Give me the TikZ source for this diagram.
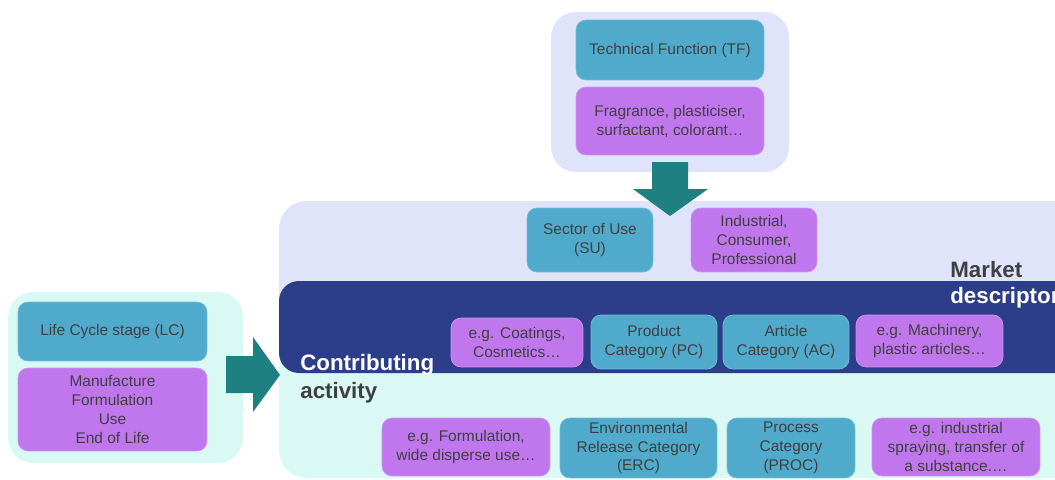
\documentclass[tikz,border=0pt]{standalone}
\usepackage{fontspec}
\setmainfont{Liberation Sans}
\usetikzlibrary{positioning}
\usetikzlibrary{calc}

\definecolor{tealbox}{RGB}{79,170,204}
\definecolor{purplebox}{RGB}{192,119,238}
\definecolor{lavender}{RGB}{224,228,250}
\definecolor{navyband}{RGB}{44,62,138}
\definecolor{cyanlight}{RGB}{218,249,245}
\definecolor{arrowteal}{RGB}{30,128,128}
\definecolor{textgray}{RGB}{64,64,64}

\begin{document}
\begin{tikzpicture}[x=0.02cm,y=-0.02cm,
    box/.style={rounded corners=0.2cm,align=center,inner sep=1pt,text=textgray,
        font=\fontsize{8.8}{10.8}\selectfont},
    tbox/.style={box,fill=tealbox,draw=tealbox!80!white,line width=0.4pt},
    pbox/.style={box,fill=purplebox,draw=purplebox!80!white,line width=0.4pt},
    group/.style={rounded corners=0.5cm,inner sep=0pt},
    title/.style={anchor=base west,inner sep=0pt,font=\fontsize{12.7}{15}\selectfont\bfseries}]
            \useasboundingbox (0,0) rectangle (1055,480);
            % bands
            \fill[lavender,rounded corners=0.55cm] (279,201) rectangle (1120,330);
            \fill[cyanlight,rounded corners=0.55cm] (279,340) rectangle (1120,478);
            \fill[navyband,rounded corners=0.4cm] (279,281) rectangle (1120,373);
            \node[title,text=textgray] (M1) at (950,277) {Market};
            \node[title,text=white] (M2) at (950,303) {descriptor};
            \node[title,text=white] (C1) at (300,370) {Contributing};
            \node[title,text=textgray] (C2) at (300,398) {activity};
            % groups
            \node[group,fill=lavender,minimum width=4.76cm,minimum height=3.2cm] (G1) at (670,92) {};
            \node[group,fill=cyanlight,minimum width=4.7cm,minimum height=3.42cm] (G2) at (125.5,377.5) {};
            % arrows
            \fill[arrowteal] (652,162) -- (688,162) -- (688,189) -- (708,189) -- (670,216)
                -- (633,189) -- (652,189) -- cycle;
            \fill[arrowteal] (226,356) -- (253,356) -- (253,337) -- (280,375) -- (253,412)
                -- (253,393) -- (226,393) -- cycle;
            % top group
            \node[tbox,minimum width=3.76cm,minimum height=1.2cm] (TF) at (670,50) {Technical Function (TF)};
            \node[pbox,minimum width=3.76cm,minimum height=1.36cm] (Fr) at (670,121) {Fragrance, plasticiser,\\surfactant, colorant…};
            % left group
            \node[tbox,minimum width=3.78cm,minimum height=1.18cm] (LC) at (112.5,331.5) {Life Cycle stage (LC)};
            \node[pbox,minimum width=3.78cm,minimum height=1.66cm] (LS) at (112.5,409.5) {Manufacture\\Formulation\\Use\\End of Life};
            % market row
            \node[tbox,minimum width=2.52cm,minimum height=1.28cm] (SU) at (590,240) {Sector of Use\\(SU)};
            \node[pbox,minimum width=2.52cm,minimum height=1.28cm] (IC) at (754,240) {Industrial,\\Consumer,\\Professional};
            \node[pbox,minimum width=2.64cm,minimum height=0.98cm] (Co) at (517,342.5) {e.g. Coatings,\\Cosmetics…};
            \node[tbox,minimum width=2.52cm,minimum height=1.08cm] (PC) at (654,342) {Product\\Category (PC)};
            \node[tbox,minimum width=2.52cm,minimum height=1.08cm] (AC) at (786,342) {Article\\Category (AC)};
            \node[pbox,minimum width=2.94cm,minimum height=1.04cm] (Ma) at (929.5,341) {e.g. Machinery,\\plastic articles…};
            % activity row
            \node[pbox,minimum width=3.36cm,minimum height=1.16cm] (Fo) at (466,447) {e.g. Formulation,\\wide disperse use…};
            \node[tbox,minimum width=3.14cm,minimum height=1.2cm] (ERC) at (638.5,448) {Environmental\\Release Category\\(ERC)};
            \node[tbox,minimum width=2.56cm,minimum height=1.2cm] (PROC) at (791,448) {Process\\Category\\(PROC)};
            \node[pbox,minimum width=3.36cm,minimum height=1.16cm] (Sp) at (956,447) {e.g. industrial\\spraying, transfer of\\a substance.…};
        \end{tikzpicture}
\end{document}
